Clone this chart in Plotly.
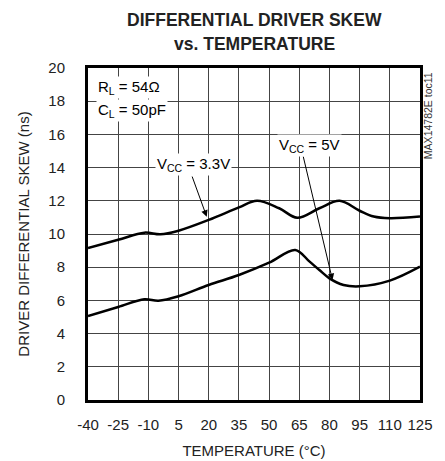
import plotly.graph_objects as go

FONT = "Liberation Sans Narrow, Arial Narrow, Liberation Sans, Arial"

temp_33 = [-40, -25, -12, -4, 5, 20, 35, 44, 55, 64, 75, 85, 95, 102, 110, 125]
skew_33 = [9.16, 9.65, 10.08, 9.98, 10.2, 10.85, 11.6, 12.0, 11.55, 10.98, 11.55, 12.0, 11.4, 11.05, 10.95, 11.05]

temp_5 = [-40, -25, -12, -5, 5, 20, 35, 50, 63, 70, 75, 80, 87, 95, 110, 125]
skew_5 = [5.06, 5.6, 6.07, 5.98, 6.25, 6.93, 7.53, 8.27, 9.04, 8.35, 7.83, 7.33, 6.93, 6.85, 7.19, 8.03]

x_ticks = [-40, -25, -10, 5, 20, 35, 50, 65, 80, 95, 110, 125]
x_labels = [str(v) for v in x_ticks]  # plain hyphen, not unicode minus
y_ticks = [0, 2, 4, 6, 8, 10, 12, 14, 16, 18, 20]

fig = go.Figure()
for t, s in [(temp_33, skew_33), (temp_5, skew_5)]:
    fig.add_trace(go.Scatter(x=t, y=s, mode="lines",
                             line=dict(color="black", width=2.5, shape="spline", smoothing=1.0),
                             showlegend=False, hoverinfo="skip"))

# arrows
fig.add_annotation(x=19, y=11.04, ax=11.5, ay=13.55, axref="x", ayref="y", xref="x", yref="y",
                   text="", showarrow=True, arrowhead=2, arrowsize=1.3, arrowwidth=1, arrowcolor="black")
fig.add_annotation(x=81.5, y=7.23, ax=66.8, ay=14.76, axref="x", ayref="y", xref="x", yref="y",
                   text="", showarrow=True, arrowhead=2, arrowsize=1.3, arrowwidth=1, arrowcolor="black")

labels = [
    (-36, 18.8, "R<sub>L</sub> = 54Ω", "left"),
    (-36, 17.45, "C<sub>L</sub> = 50pF", "left"),
    (12.4, 14.16, "V<sub>CC</sub> = 3.3V", "center"),
    (70.3, 15.36, "V<sub>CC</sub> = 5V", "center"),
]
for x, y, txt, anc in labels:
    fig.add_annotation(x=x, y=y, text=txt, showarrow=False, xanchor=anc, bgcolor="white",
                       font=dict(family=FONT, size=15, color="black"), borderpad=1)

fig.add_annotation(x=1.024, y=0.995, xref="paper", yref="paper", text="MAX14782E toc11",
                   textangle=-90, showarrow=False, xanchor="center", yanchor="top",
                   font=dict(family=FONT, size=10.5, color="#333"))

# title, two lines (paper coords are relative to the plot area)
for txt, ypos in [("DIFFERENTIAL DRIVER SKEW", 1.145), ("vs. TEMPERATURE", 1.071)]:
    fig.add_annotation(x=0.5, y=ypos, xref="paper", yref="paper", text=f"<b>{txt}</b>",
                       showarrow=False, xanchor="center", yanchor="middle",
                       font=dict(family=FONT, size=17.5, color="#222"))

fig.update_layout(
    width=437, height=453,
    margin=dict(l=80, r=25, t=60, b=61),
    plot_bgcolor="white", paper_bgcolor="white",
    font=dict(family=FONT, size=15, color="#222"),
)
fig.update_xaxes(range=[-40, 125], tickvals=x_ticks, ticktext=x_labels, showgrid=True, gridcolor="#444",
                 gridwidth=1, zeroline=False, showline=True, linecolor="black", linewidth=3, mirror=True,
                 ticks="", ticklabelstandoff=9, automargin=False,
                 title=dict(text="TEMPERATURE (°C)", font=dict(size=15), standoff=14))
fig.update_yaxes(range=[0, 20], tickvals=y_ticks, showgrid=True, gridcolor="#444", gridwidth=1,
                 zeroline=False, showline=True, linecolor="black", linewidth=3, mirror=True,
                 ticks="", ticklabelstandoff=17, automargin=False,
                 title=dict(text="DRIVER DIFFERENTIAL SKEW (ns)", font=dict(size=15), standoff=16))

fig.write_html("out.html")
